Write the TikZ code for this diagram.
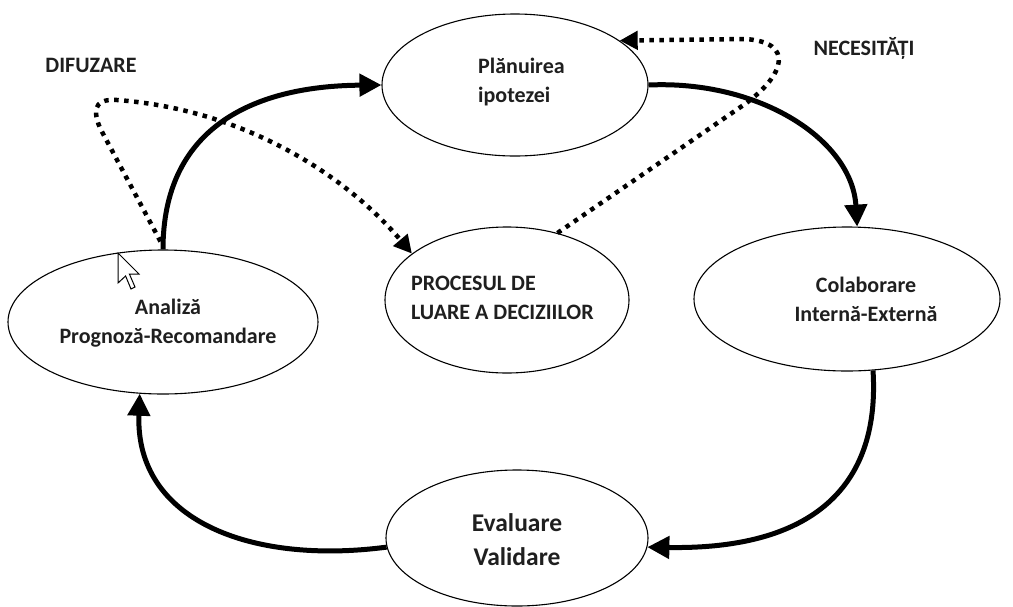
\documentclass[tikz,border=0pt]{standalone}
\usepackage{fontspec}
\setmainfont{Carlito}
\usetikzlibrary{shapes.geometric,arrows.meta}
\begin{document}
\begin{tikzpicture}[x=1pt,y=-1pt,
  oval/.style={draw=black, line width=1.1pt, ellipse, inner sep=0pt},
  lbl/.style={font=\fontsize{22}{29}\selectfont\bfseries, inner sep=0pt, text=black!88},
  biglbl/.style={font=\fontsize{25.5}{34}\selectfont\bfseries, inner sep=0pt, text=black!88},
  thickflow/.style={line width=5pt, -{Triangle[length=22pt,width=22pt]}},
  dotline/.style={line width=4.5pt, dash pattern=on 4.5pt off 5.5pt, -{Triangle[length=18pt,width=18pt]}},
]
\useasboundingbox (0,0) rectangle (1013,606);
\fill[white] (0,0) rectangle (1013,606);

% ellipses
\node[oval, minimum width=266pt, minimum height=142pt] (plan) at (515,85) {};
\node[oval, minimum width=244pt, minimum height=146pt] (proc) at (507,300) {};
\node[oval, minimum width=310pt, minimum height=144pt] (ana) at (163,322) {};
\node[oval, minimum width=306pt, minimum height=144pt] (col) at (847,299) {};
\node[oval, minimum width=262pt, minimum height=136pt] (eva) at (517,538) {};

% texts
\node[lbl, align=left, anchor=west] (planT) at (478,82) {Plănuirea\\ipotezei};
\node[lbl, align=left, anchor=west] (procT) at (411,298) {PROCESUL DE\\LUARE A DECIZIILOR};
\node[lbl, align=center] (anaT) at (168,323) {Analiză\\Prognoză-Recomandare};
\node[lbl, align=center] (colT) at (866,299) {Colaborare\\Internă-Externă};
\node[biglbl, align=center] (evaT) at (517,540) {Evaluare\\Validare};
\node[lbl] (dif) at (91,65) {DIFUZARE};
\node[lbl] (nec) at (864,48) {NECESITĂȚI};

% main cycle
\draw[thickflow] (ana.90) .. controls (163,130) and (250,86) .. (plan.180);
\draw[thickflow] (plan.0) .. controls (760,80) and (852,140) .. (col.82);
\draw[thickflow] (col.-70) .. controls (880,480) and (820,550) .. (eva.-4);
\draw[thickflow] (eva.184) .. controls (250,565) and (135,520) .. (ana.252);

% dotted feedback loops
\draw[dotline] ([yshift=8pt]ana.92) -- (100,128) .. controls (90,104) and (100,99) .. (117,100)
  .. controls (250,110) and (350,180) .. (proc.154);
\draw[dotline] (proc.53) -- (745,104) .. controls (785,75) and (795,42) .. (745,39) -- (plan.23);

% mouse cursor
\draw[fill=white, line width=1pt, line join=miter] (118,253) coordinate (cur) -- ++(0,30) -- ++(7.6,-7) -- ++(5.4,13) -- ++(4,-2) -- ++(-5.6,-13) -- ++(9.6,0) -- cycle;
\end{tikzpicture}
\end{document}
